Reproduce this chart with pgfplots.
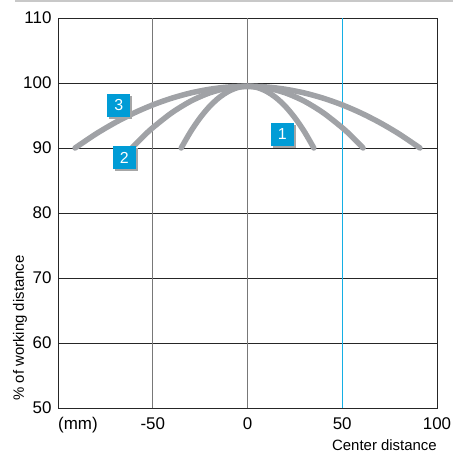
\documentclass[border=0pt]{standalone}
\usepackage{pgfplots}
\pgfplotsset{compat=1.18}
\usepackage{fontspec}
\setmainfont{Liberation Sans}
\definecolor{curvegray}{RGB}{160,162,166}
\definecolor{sickblue}{RGB}{0,156,214}
\definecolor{cyanline}{RGB}{20,175,228}
\definecolor{gridgray}{RGB}{120,120,120}
\begin{document}
\begin{tikzpicture}
\useasboundingbox (0,0) rectangle (453bp,452bp);
\draw[color={rgb,255:red,200;green,200;blue,200}, line width=1.2bp] (15bp,451bp) -- (453bp,451bp);
\begin{axis}[
  at={(58bp,44bp)}, anchor=south west,
  scale only axis, width=379bp, height=390bp,
  xmin=-100, xmax=100, ymin=50, ymax=110,
  xtick={-100,-50,0,50,100},
  xticklabels={,-50,0,50,100},
  ytick={50,60,70,80,90,100,110},
  major tick length=0pt,
  tick label style={font=\fontsize{17}{19}\selectfont},
  /pgf/number format/assume math mode=true,
  xticklabel style={yshift=-6bp},
  yticklabel style={xshift=-3bp},
  axis line style={line width=0.9bp, color=black!85},
  clip=false,
]
% horizontal grid lines
\addplot[black!85, line width=0.8bp, forget plot] coordinates {(-100,60) (100,60)};
\addplot[black!85, line width=0.8bp, forget plot] coordinates {(-100,70) (100,70)};
\addplot[black!85, line width=0.8bp, forget plot] coordinates {(-100,80) (100,80)};
\addplot[black!85, line width=0.8bp, forget plot] coordinates {(-100,90) (100,90)};
\addplot[black!85, line width=0.8bp, forget plot] coordinates {(-100,100) (100,100)};
% vertical lines
\addplot[gridgray, line width=1.2bp, forget plot] coordinates {(-50,50) (-50,110)};
\addplot[gridgray, line width=1.2bp, forget plot] coordinates {(0,50) (0,110)};
\addplot[cyanline, line width=1bp, forget plot] coordinates {(50,50) (50,110)};
% curves
\addplot[curvegray, line width=5.5bp, line cap=round, smooth] coordinates {
(-35,90) (-30,92.52) (-25,94.65) (-20,96.40) (-15,97.75) (-10,98.72) (-5,99.31) (0,99.5)
(5,99.31) (10,98.72) (15,97.75) (20,96.40) (25,94.65) (30,92.52) (35,90)};
\addplot[curvegray, line width=5.5bp, line cap=round, smooth] coordinates {
(-61,90) (-55,91.78) (-50,93.12) (-40,95.41) (-30,97.20) (-20,98.48) (-10,99.24) (0,99.5)
(10,99.24) (20,98.48) (30,97.20) (40,95.41) (50,93.12) (55,91.78) (61,90)};
\addplot[curvegray, line width=5.5bp, line cap=round, smooth] coordinates {
(-91,90) (-80,92.16) (-70,93.88) (-60,95.37) (-50,96.63) (-40,97.66) (-30,98.47) (-20,99.04) (-10,99.39) (0,99.5)
(10,99.39) (20,99.04) (30,98.47) (40,97.66) (50,96.63) (60,95.37) (70,93.88) (80,92.16) (91,90)};
% labels
\foreach \px/\py/\t in {18.4/92.15/1, -65/88.54/2, -67.9/96.6/3}{
  \edef\temp{\noexpand\node[fill=gray!70, minimum size=23bp, inner sep=0pt] at ([xshift=2bp,yshift=-2bp]axis cs:\px,\py) {};
  \noexpand\node[fill=sickblue, text=white, minimum size=23bp, inner sep=0pt, font=\noexpand\fontsize{16}{18}\noexpand\selectfont] at (axis cs:\px,\py) {\t};}
  \temp
}
\node[anchor=north west, font=\fontsize{17}{19}\selectfont, inner sep=0pt] at ([yshift=-9bp]rel axis cs:0,0) {(mm)};
\node[anchor=base east, font=\fontsize{15}{17}\selectfont, inner sep=0pt] at ([yshift=-42bp]rel axis cs:1,0) {Center distance};
\node[rotate=90, font=\fontsize{15}{17}\selectfont, inner sep=0pt] at ([xshift=-38bp,yshift=80bp]rel axis cs:0,0) {\% of working distance};
\end{axis}
\end{tikzpicture}
\end{document}
